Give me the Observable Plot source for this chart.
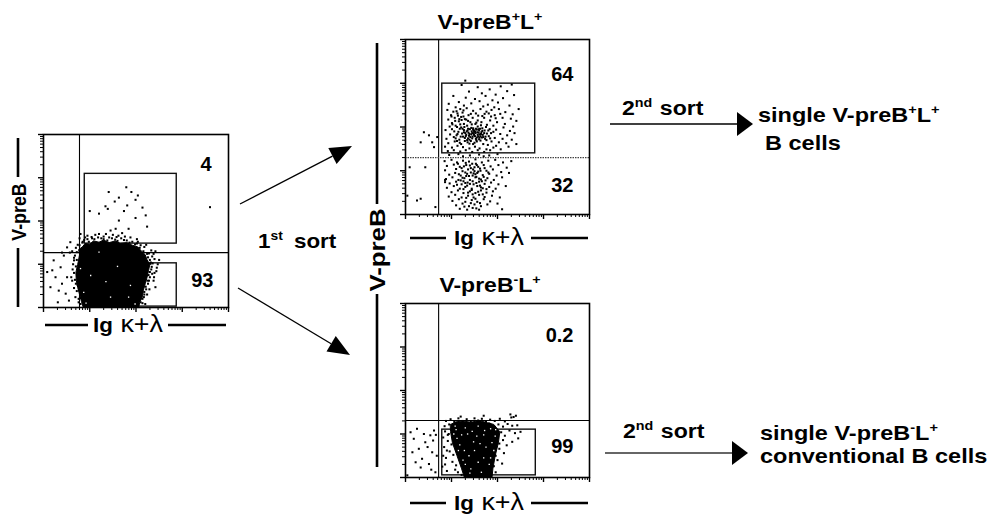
<!DOCTYPE html>
<html><head><meta charset="utf-8">
<script src="https://cdn.jsdelivr.net/npm/d3@7"></script>
<script src="https://cdn.jsdelivr.net/npm/@observablehq/plot@0.6"></script>
<style>
html,body{margin:0;padding:0;background:#fff;}
#fig{position:relative;width:1000px;height:514px;overflow:hidden;background:#fff;}
</style></head><body><div id="fig"></div>
<script>
// ---------- DATA (fluorescence axes, log decades 10^0..10^4) ----------
const decadeTicks = [1, 10, 100, 1000, 10000];
const minorTicks = [2,3,4,5,6,7,8,9,20,30,40,50,60,70,80,90,200,300,400,500,600,700,800,900,2000,3000,4000,5000,6000,7000,8000,9000];

// Panel 1: population before sorting (cells as "log10 x, log10 y")
const p1Quadrant = [6.0, 18.6];
const p1Gates = [ {x1: 7.8, x2: 760, y1: 30, y2: 1230}, {x1: 7.8, x2: 760, y1: 1.05, y2: 10.5} ];
const p1Pct = ["4", "93"];
const p1Core = "0.74,1.00;0.78,1.22;0.76,1.34;0.84,1.40;0.90,1.48;1.00,1.46;1.08,1.54;1.20,1.51;1.30,1.56;1.42,1.50;1.55,1.54;1.66,1.48;1.80,1.50;1.92,1.44;2.04,1.40;2.12,1.30;2.20,1.22;2.24,1.10;2.30,1.00;2.27,0.85;2.24,0.70;2.20,0.55;2.16,0.40;2.14,0.25;2.08,0.12;2.06,0.0;0.86,0.0;0.82,0.14;0.78,0.30;0.74,0.46;0.71,0.62;0.70,0.80";
const p1Holes = "1.45,0.24;1.84,0.24;1.02,0.74;1.20,1.28;1.88,0.51;0.87,0.35;1.60,0.95;1.35,0.60;0.92,0.10;1.98,0.08;0.80,0.90";
const p1Cells = "1.41,2.67;1.79,2.78;1.90,2.67;1.99,2.49;1.54,2.45;1.34,2.34;1.39,2.28;1.20,2.17;1.00,2.23;1.74,2.23;2.14,2.31;1.81,2.36;2.21,2.13;1.63,2.01;1.99,2.07;2.24,1.87;1.45,1.78;1.56,1.82;1.84,1.82;1.20,1.70;3.60,2.32;1.63,2.54;2.04,2.59;" +
 "0.95,1.66;1.30,1.64;1.50,1.68;1.88,1.62;2.02,1.58;0.80,1.70;1.70,1.72;" +
 "0.85,1.52;0.95,1.58;1.05,1.60;1.18,1.62;1.30,1.58;1.42,1.62;1.55,1.57;1.68,1.60;1.80,1.55;1.92,1.52;2.02,1.48;2.10,1.44;1.12,1.68;1.62,1.66;1.35,1.70;0.90,1.62;2.18,1.40;" +
 "2.30,1.10;2.36,1.02;2.33,0.88;2.40,0.80;2.30,0.70;2.26,0.55;2.22,0.42;2.18,0.30;2.14,0.20;2.38,0.62;2.45,0.92;2.28,1.25;2.35,1.18;2.42,1.30;2.50,1.10;2.20,0.08;" +
 "0.68,1.20;0.64,1.00;0.66,0.80;0.70,0.55;0.72,0.38;0.76,0.20;0.80,0.08;0.62,1.30;0.70,1.38;0.60,0.70;0.66,0.45;0.74,1.45;" +
 "0.72,1.10;0.70,0.95;0.73,0.72;0.68,0.64;0.74,0.52;0.77,0.40;0.76,0.12;0.81,0.22;0.63,0.88;0.66,1.15;0.72,1.28;0.78,1.44;0.84,1.50;0.88,1.56;0.98,1.52;1.10,1.58;1.25,1.60;1.38,1.55;1.48,1.60;1.60,1.54;1.74,1.56;1.86,1.50;1.98,1.46;2.08,1.38;2.16,1.30;2.26,1.16;2.32,1.04;2.34,0.94;2.30,0.82;2.27,0.75;2.25,0.62;2.21,0.48;2.18,0.36;2.14,0.10;2.24,0.30;2.29,0.42;2.39,0.70;2.44,0.84;2.47,1.00;2.40,1.12;2.33,1.32;2.22,1.45;1.04,1.63;1.58,1.63;1.76,1.64;0.78,1.60;2.04,1.52;" +
 "0.08,0.82;0.19,0.86;0.26,0.70;0.37,0.93;0.40,0.55;0.48,0.32;0.51,1.39;0.58,1.51;0.55,0.16;0.15,0.47;0.33,0.39;0.62,0.62;0.66,1.09;0.44,1.20;0.22,1.09;0.51,0.70;0.69,0.24;0.40,1.27;0.57,1.27;0.31,0.12;" +
 "2.24,1.24;2.31,1.01;2.28,0.62;2.17,0.24;2.35,0.78;2.10,0.12;2.38,1.24;2.42,0.47";

// Panel 2: V-preB+L+ after first sort
const p2Quadrant = [5.25, 20];
const p2Gates = [ {x1: 6.3, x2: 660, y1: 25, y2: 980} ];
const p2Pct = ["64", "32"];
const p2Cells = "1.22,2.96;1.57,2.91;1.83,2.86;2.07,2.93;2.31,2.97;1.38,2.81;1.66,2.77;1.96,2.74;2.21,2.82;1.04,2.71;1.31,2.67;1.51,2.64;1.74,2.71;1.89,2.61;2.12,2.66;2.36,2.73;1.16,2.57;1.43,2.54;1.61,2.59;1.79,2.51;2.01,2.56;2.26,2.49;0.94,2.53;1.27,2.49;1.69,2.47;1.93,2.45;2.46,2.41;1.09,2.45;1.30,3.06;" +
 "0.91,2.39;1.04,2.35;1.19,2.41;1.33,2.43;1.47,2.37;1.63,2.41;1.76,2.35;1.87,2.39;2.03,2.41;2.17,2.34;2.33,2.29;0.99,2.27;1.13,2.31;1.24,2.33;1.37,2.27;1.53,2.31;1.67,2.25;1.81,2.31;1.94,2.27;2.11,2.21;2.29,2.19;0.93,2.17;1.07,2.21;1.21,2.23;1.32,2.17;1.46,2.21;1.57,2.15;1.71,2.21;1.84,2.15;1.99,2.11;2.41,2.14;1.01,2.09;1.16,2.13;1.27,2.07;1.41,2.11;1.52,2.07;1.65,2.11;1.77,2.05;1.91,2.03;2.16,2.07;2.34,2.01;" +
 "1.00,2.24;1.08,2.14;1.14,2.26;1.22,2.16;1.02,2.06;1.26,2.24;" +
 "0.96,2.01;1.09,2.03;1.21,1.99;1.34,2.03;1.47,1.97;1.57,2.01;1.67,1.97;1.83,1.95;1.97,1.94;2.13,1.99;2.27,1.91;0.87,1.93;1.01,1.95;1.15,1.89;1.27,1.93;1.37,1.87;1.49,1.91;1.59,1.87;1.67,1.91;1.77,1.85;1.91,1.89;2.06,1.84;2.21,1.81;2.37,1.86;0.97,1.83;1.11,1.81;1.23,1.85;1.31,1.79;1.43,1.83;1.51,1.79;1.61,1.83;1.69,1.77;1.81,1.79;1.94,1.75;2.11,1.73;2.31,1.71;0.89,1.73;1.05,1.77;1.17,1.71;1.29,1.75;1.39,1.71;1.53,1.73;1.63,1.69;1.73,1.73;1.87,1.67;2.03,1.65;2.19,1.63;0.93,1.63;1.07,1.67;1.21,1.61;1.35,1.65;1.47,1.61;1.55,1.67;1.69,1.61;1.79,1.59;1.97,1.57;2.41,1.61;" +
 "1.40,1.95;1.44,1.90;1.52,1.86;1.55,1.94;1.62,1.96;1.46,1.78;1.36,1.96;1.30,1.86;1.58,1.78;1.64,1.84;1.54,1.70;1.42,1.68;1.25,1.78;1.34,1.70;1.72,1.92;1.18,1.96;1.12,1.68;1.66,1.76;1.48,1.86;1.38,1.80;1.50,1.92;1.45,1.74;1.57,1.82;1.33,1.90;" +
 "1.28,2.00;1.35,1.92;1.39,1.84;1.43,1.98;1.47,1.94;1.49,1.82;1.53,1.96;1.56,1.88;1.60,1.92;1.61,1.76;1.65,1.88;1.68,1.82;1.71,1.86;1.74,1.78;1.36,1.74;1.41,1.77;1.45,1.86;1.51,1.89;1.55,1.76;1.59,1.95;1.63,1.79;1.32,1.82;1.27,1.88;1.24,1.96;1.19,2.06;1.12,2.00;1.06,1.90;1.13,1.84;1.20,1.78;1.09,1.74;1.18,1.64;1.29,1.68;1.39,1.62;1.50,1.64;1.60,1.72;1.76,1.70;1.84,1.74;1.86,1.86;1.80,1.92;1.75,2.00;1.64,2.04;1.54,2.10;1.44,2.06;1.36,2.14;1.29,2.18;1.17,2.18;1.11,2.36;1.26,2.38;1.42,2.30;1.58,2.26;1.72,2.30;1.86,2.24;1.96,2.20;2.06,2.30;" +
 "0.86,1.55;1.01,1.53;1.13,1.57;1.25,1.54;1.39,1.51;1.51,1.55;1.61,1.51;1.76,1.49;1.91,1.53;2.07,1.49;2.24,1.55;0.92,1.45;1.05,1.47;1.19,1.44;1.31,1.47;1.45,1.43;1.57,1.47;1.71,1.43;1.84,1.47;" +
 "0.95,1.36;1.15,1.38;1.40,1.35;1.60,1.37;1.82,1.35;2.00,1.38;1.25,1.33;1.70,1.33;" +
 "0.40,1.88;0.51,1.81;0.33,1.65;0.58,1.65;0.09,1.08;0.43,1.08;0.33,0.36;0.25,0.32;0.04,0.43;0.65,0.17;0.69,1.77;0.62,1.54;" +
 "0.85,1.22;1.00,1.25;1.12,1.19;1.25,1.23;1.38,1.21;1.52,1.26;1.66,1.19;1.80,1.23;1.95,1.25;2.12,1.19;2.30,1.22;0.90,1.11;1.05,1.14;1.18,1.09;1.32,1.13;1.45,1.16;1.58,1.09;1.70,1.13;1.85,1.10;2.02,1.13;2.20,1.07;0.86,1.01;1.10,1.04;1.24,0.99;1.36,1.03;1.50,0.99;1.62,1.05;1.76,1.00;1.90,1.03;2.08,0.97;0.95,0.91;1.08,0.95;1.20,0.89;1.34,0.93;1.46,0.89;1.56,0.95;1.68,0.90;1.82,0.93;1.98,0.89;2.25,0.95;0.88,0.81;1.02,0.85;1.15,0.79;1.28,0.83;1.40,0.79;1.52,0.85;1.64,0.80;1.78,0.83;1.92,0.79;2.10,0.85;0.96,0.71;1.10,0.75;1.22,0.69;1.35,0.73;1.48,0.69;1.60,0.75;1.72,0.70;1.86,0.73;2.02,0.69;0.90,0.61;1.05,0.65;1.18,0.59;1.30,0.63;1.44,0.59;1.56,0.65;1.68,0.60;1.82,0.63;1.96,0.59;2.18,0.65;1.00,0.51;1.14,0.55;1.26,0.49;1.40,0.53;1.52,0.49;1.64,0.55;1.76,0.50;1.90,0.53;0.94,0.41;1.08,0.45;1.22,0.39;1.36,0.43;1.48,0.39;1.60,0.45;1.72,0.40;1.88,0.43;2.05,0.39;1.02,0.31;1.16,0.35;1.30,0.29;1.44,0.33;1.56,0.29;1.70,0.35;1.84,0.30;1.10,0.21;1.24,0.25;1.38,0.19;1.50,0.23;1.64,0.19;1.78,0.23;2.00,0.25;1.18,0.13;1.34,0.11;1.46,0.15;1.60,0.11;2.10,0.12;" +
 "1.42,1.06;1.30,0.96;1.54,0.86;1.46,0.76;1.62,0.66;1.38,0.88;1.50,1.08;1.58,0.98;1.26,0.76;1.70,0.86;1.44,0.56;1.34,0.66;1.48,0.94;1.66,0.76;0.86,0.74;0.86,0.79;1.53,1.16;1.27,1.10;" +
 "1.14,1.16;1.22,1.06;1.31,1.18;1.40,1.12;1.47,1.03;1.55,1.13;1.63,1.00;1.72,1.06;1.80,0.96;1.16,0.92;1.24,0.84;1.32,0.88;1.42,0.96;1.52,0.92;1.60,0.82;1.74,0.78;1.12,0.68;1.20,0.78;1.30,0.72;1.40,0.70;1.54,0.72;1.64,0.62;1.76,0.58;1.26,0.58;1.36,0.50;1.46,0.46;1.58,0.52;1.68,0.46;1.32,0.38;1.52,0.36;1.62,0.26;1.42,0.26;1.28,0.18;1.54,0.14";

// Panel 3: V-preB-L+ after first sort
const p3Quadrant = [5.25, 20.4];
const p3Gates = [ {x1: 6.3, x2: 680, y1: 1.12, y2: 12.6} ];
const p3Pct = ["0.2", "99"];
const p3Core = "0.98,1.22;1.10,1.28;1.25,1.30;1.42,1.27;1.60,1.31;1.78,1.26;1.92,1.22;2.05,1.05;2.02,0.80;1.95,0.50;1.90,0.20;1.88,0.0;1.28,0.0;1.22,0.20;1.12,0.50;1.02,0.80;0.98,1.05";
const p3Holes = "1.10,1.10;1.22,0.98;1.30,1.14;1.45,1.06;1.58,1.18;1.72,1.08;1.85,1.12;1.95,0.95;1.88,0.80;1.75,0.70;1.62,0.78;1.50,0.62;1.38,0.50;1.28,0.62;1.18,0.75;1.12,0.90;1.30,0.30;1.42,0.20;1.58,0.35;1.70,0.45;1.82,0.30;1.65,0.12;1.48,0.82;1.35,1.00;1.05,1.00;1.92,0.62;1.25,0.40;1.40,0.10;1.70,0.98;1.55,0.95;1.08,1.18;1.96,1.10;1.15,0.62;1.85,0.45";
const p3Cells = "0.88,1.30;0.98,1.34;1.06,1.28;1.15,1.36;1.24,1.30;1.33,1.34;1.42,1.28;1.50,1.36;1.58,1.31;1.66,1.35;1.75,1.28;1.84,1.33;1.94,1.30;2.05,1.35;2.16,1.29;2.30,1.38;2.40,1.42;1.70,1.42;1.20,1.40;" +
 "0.85,1.18;0.95,1.22;1.02,1.16;1.10,1.24;1.20,1.20;1.30,1.24;1.38,1.19;1.48,1.23;1.56,1.18;1.64,1.24;1.74,1.20;1.82,1.24;1.92,1.18;2.02,1.22;2.12,1.17;2.22,1.23;2.32,1.19;" +
 "0.86,1.06;0.94,1.00;1.02,1.09;1.08,0.98;1.16,1.05;1.94,1.08;2.00,0.98;2.08,1.04;2.16,0.96;2.26,1.08;2.38,1.02;" +
 "0.92,0.84;1.00,0.76;1.06,0.90;1.10,0.72;1.16,0.82;1.96,0.88;2.04,0.78;2.12,0.86;2.20,0.74;2.32,0.82;" +
 "0.96,0.60;1.04,0.52;1.10,0.64;1.16,0.48;1.20,0.66;1.90,0.62;1.96,0.50;2.04,0.66;2.14,0.56;" +
 "1.02,0.36;1.10,0.28;1.18,0.40;1.24,0.30;1.28,0.42;1.86,0.36;1.92,0.26;2.00,0.40;2.10,0.32;" +
 "1.14,0.12;1.22,0.06;1.30,0.14;1.80,0.14;1.86,0.05;1.96,0.12;1.08,0.18;" +
 "0.82,0.92;0.84,0.70;0.82,0.50;0.86,0.30;0.90,0.15;0.88,0.45;0.90,0.62;0.92,0.98;0.80,0.25;" +
 "0.11,1.04;0.18,0.89;0.25,1.12;0.29,0.66;0.36,0.43;0.43,0.81;0.54,0.97;0.58,0.58;0.62,1.08;0.33,0.23;0.51,0.31;0.04,0.05;0.65,0.12;0.15,0.58;0.48,0.70;0.60,0.85;0.68,0.50;0.40,1.00;0.22,0.35;0.66,0.98;0.56,0.18;" +
 "2.35,1.39;2.43,1.20;2.50,1.05;2.45,0.90;2.28,1.45";

// ---------- RENDER ----------
const FONT = "'Liberation Sans', Arial, Helvetica, sans-serif";
const fig = document.getElementById("fig");
const parse = s => s.split(";").filter(Boolean).map(p => { const [a, b] = p.split(",").map(Number); return {x: 10 ** a, y: 10 ** b}; });

function panel({cells, core, holes, quad, gates, pct, dashedH, frame, pctPos}) {
  const mL = 8, mR = 2, mT = 2, mB = 8;
  const marks = [
    Plot.axisY({ticks: minorTicks, tickSize: 3, tickFormat: () => "", label: null, strokeWidth: 1}),
    Plot.axisY({ticks: decadeTicks, tickSize: 5, tickFormat: () => "", label: null, strokeWidth: 1.4}),
    Plot.axisX({ticks: minorTicks, tickSize: 3, tickFormat: () => "", label: null, strokeWidth: 1}),
    Plot.axisX({ticks: decadeTicks, tickSize: 5, tickFormat: () => "", label: null, strokeWidth: 1.4}),
    Plot.ruleX([quad[0]], {stroke: "#000", strokeWidth: 1.1}),
    Plot.ruleY([quad[1]], dashedH ? {stroke: "#444", strokeWidth: 1.1, strokeDasharray: "1.5,1"} : {stroke: "#000", strokeWidth: 1.1}),
    Plot.rect(gates, {x1: "x1", x2: "x2", y1: "y1", y2: "y2", fill: "none", stroke: "#111", strokeWidth: 1.4}),
  ];
  if (core) marks.push(Plot.line(parse(core), {x: "x", y: "y", fill: "#000", stroke: "#000", strokeWidth: 1, curve: "linear-closed"}));
  marks.push(Plot.dot(parse(cells), {x: "x", y: "y", r: 1.15, symbol: "square", fill: "#000"}));
  if (holes) marks.push(Plot.dot(parse(holes), {x: "x", y: "y", r: 0.75, symbol: "square", fill: "#fff"}));
  marks.push(Plot.frame({stroke: "#000", strokeWidth: 1.6}));
  marks.push(Plot.text([pct[0]], {text: d => d, frameAnchor: "top-right", textAnchor: "end", dx: pctPos[0], dy: pctPos[1], fontSize: 20, fontWeight: "bold", fill: "#000"}));
  marks.push(Plot.text([pct[1]], {text: d => d, frameAnchor: "bottom-right", textAnchor: "end", dx: pctPos[2], dy: pctPos[3], fontSize: 20, fontWeight: "bold", fill: "#000"}));
  const svg = Plot.plot({
    width: frame[2] + mL + mR, height: frame[3] + mT + mB,
    marginLeft: mL, marginRight: mR, marginTop: mT, marginBottom: mB,
    x: {type: "log", domain: [1, 10000]},
    y: {type: "log", domain: [1, 10000]},
    style: {fontFamily: FONT, background: "transparent", overflow: "visible", color: "#000"},
    marks
  });
  svg.style.position = "absolute";
  svg.style.left = (frame[0] - mL) + "px";
  svg.style.top = (frame[1] - mT) + "px";
  fig.appendChild(svg);
}

panel({cells: p1Cells, core: p1Core, holes: p1Holes, quad: p1Quadrant, gates: p1Gates, pct: p1Pct, dashedH: false, frame: [43, 134, 185, 173], pctPos: [-17, 22, -15, -21]});
panel({cells: p2Cells, quad: p2Quadrant, gates: p2Gates, pct: p2Pct, dashedH: true, frame: [405, 39, 184, 175], pctPos: [-16, 27, -16, -23]});
panel({cells: p3Cells, core: p3Core, holes: p3Holes, quad: p3Quadrant, gates: p3Gates, pct: p3Pct, dashedH: false, frame: [405, 303, 184, 174], pctPos: [-16, 24, -16, -25]});

// ---------- ANNOTATIONS ----------
const ov = d3.select(fig).append("svg").attr("width", 1000).attr("height", 514)
  .style("position", "absolute").style("left", "0px").style("top", "0px").style("overflow", "visible");

function label(x, y, parts, o = {}) {
  const size = o.size || 21, sx = o.sx || 1, rot = o.rot || 0;
  const t = ov.append("text")
    .attr("transform", `translate(${x},${y}) rotate(${rot}) scale(${sx},1)`)
    .attr("y", o.vcenter ? size * 0.36 : 0)
    .attr("font-size", size).attr("font-weight", "bold").attr("font-family", FONT)
    .attr("text-anchor", o.anchor || "start").attr("fill", "#000").style("white-space", "pre");
  let cur = 0;
  for (const p of parts) {
    const [s, kind, dx] = Array.isArray(p) ? p : [p, ""];
    const ts = t.append("tspan").text(s);
    const target = kind === "sup" ? -size * 0.4 : 0;
    if (target !== cur) ts.attr("dy", target - cur);
    cur = target;
    if (kind === "sup") ts.attr("font-size", size * 0.62);
    if (kind === "thin") ts.attr("font-weight", "normal").attr("font-size", size * 1.2);
    if (dx) ts.attr("dx", dx);
  }
}
function bar(x1, y1, x2, y2, w) {
  ov.append("line").attr("x1", x1).attr("y1", y1).attr("x2", x2).attr("y2", y2).attr("stroke", "#000").attr("stroke-width", w);
}
function arrow(x1, y1, x2, y2, len, half, w, col) {
  const dx = x2 - x1, dy = y2 - y1, d = Math.hypot(dx, dy), ux = dx / d, uy = dy / d;
  const bx = x2 - ux * len, by = y2 - uy * len;
  ov.append("line").attr("x1", x1).attr("y1", y1).attr("x2", bx).attr("y2", by).attr("stroke", col).attr("stroke-width", w);
  ov.append("path").attr("d", `M${x2},${y2}L${bx - uy * half},${by + ux * half}L${bx + uy * half},${by - ux * half}Z`).attr("fill", "#000");
}

// axis titles
label(18, 212, ["V-preB"], {rot: -90, anchor: "middle", vcenter: true, size: 21, sx: 0.85});
bar(18, 138, 18, 177, 2.6); bar(18, 248, 18, 307, 2.6);
label(128, 332, ["Ig", [" κ+λ", "thin"]], {anchor: "middle", size: 20, sx: 1.12});
bar(45, 325, 88, 325, 2.6); bar(168, 325, 226, 325, 2.6);

label(377, 250, ["V-preB"], {rot: -90, anchor: "middle", vcenter: true, size: 23, sx: 1.12});
bar(377, 43, 377, 204, 2.6); bar(377, 294, 377, 467, 2.6);

label(490, 29, ["V-preB", ["+", "sup"], "L", ["+", "sup"]], {anchor: "middle", size: 20, sx: 1.15});
label(489, 245, ["Ig", [" κ+λ", "thin"]], {anchor: "middle", size: 20, sx: 1.12});
bar(410, 238, 446, 238, 2.6); bar(531, 238, 588, 238, 2.6);

label(490, 292, ["V-preB", ["-", "sup"], "L", ["+", "sup"]], {anchor: "middle", size: 20, sx: 1.15});
label(489, 510, ["Ig", [" κ+λ", "thin"]], {anchor: "middle", size: 20, sx: 1.12});
bar(410, 503, 446, 503, 2.6); bar(531, 503, 588, 503, 2.6);

// first sort
arrow(240, 204, 352, 146, 22, 9, 1.3, "#000");
arrow(238, 288, 350, 355, 22, 9, 1.3, "#000");
label(258, 248, ["1", ["st", "sup"], ["sort", "", 10]], {size: 20, sx: 1.12});

// second sort
arrow(610, 124, 753, 124, 16, 12, 1.6, "#000");
label(622, 115, ["2", ["nd", "sup"], [" sort", "", 1]], {size: 21, sx: 1.1});
label(758, 122, ["single V-preB", ["+", "sup"], "L", ["+", "sup"]], {size: 21, sx: 1.12});
label(765, 150, ["B cells"], {size: 21, sx: 1.12});

arrow(605, 453, 748, 453, 16, 12, 1.3, "#333");
label(623, 438, ["2", ["nd", "sup"], [" sort", "", 1]], {size: 21, sx: 1.1});
label(760, 440, ["single V-preB", ["-", "sup"], "L", ["+", "sup"]], {size: 21, sx: 1.12});
label(760, 463, ["conventional B cells"], {size: 21, sx: 1.12});
</script></body></html>
